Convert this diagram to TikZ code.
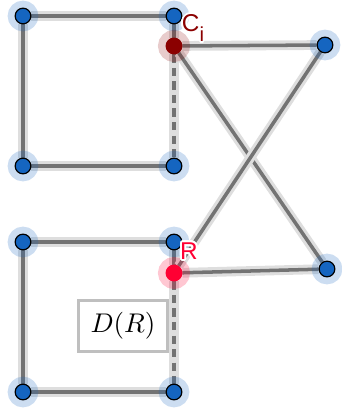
\documentclass[tikz,border=0pt]{standalone}
\usepackage{fontspec}
\setsansfont{Liberation Sans}
\usepackage[copies]{contour}
\usetikzlibrary{backgrounds}
\definecolor{vblue}{RGB}{21,101,192}
\definecolor{cired}{RGB}{139,0,0}
\definecolor{rred}{RGB}{255,0,51}
\contourlength{0.7pt}

\begin{document}
\begin{tikzpicture}[
  x=0.37pt, y=-0.37pt,
  dot/.style={circle, inner sep=0pt, minimum size=5.8pt, line width=0.45pt},
  vert/.style={dot, fill=vblue, draw=black,
    preaction={draw=vblue, draw opacity=0.22, line width=5.5pt}},
  civert/.style={dot, fill=cired, draw=cired, preaction={draw=cired, draw opacity=0.2, line width=6pt}},
  rvert/.style={dot, fill=rred, draw=rred, preaction={draw=rred, draw opacity=0.22, line width=6pt}},
  link/.style={draw=black!55, line width=1.3pt, preaction={draw=black!13, solid, line width=3.6pt}},
  dlink/.style={link, dash pattern=on 3pt off 2pt},
  tag/.style={font=\sffamily\fontsize{9}{10}\selectfont, inner sep=0pt},
  dbox/.style={draw=black!25, line width=1pt, fill=white, minimum width=33pt, minimum height=19pt}
]
  \useasboundingbox (0,0) rectangle (341,417);
  % upper square
  \node[vert] (a1) at (23,16) {};
  \node[vert] (a2) at (174,16) {};
  \node[vert] (a3) at (23,166) {};
  \node[vert] (a4) at (174,166) {};
  \node[civert] (ci) at (174,46) {};
  \node[vert] (p1) at (325,45) {};
  % lower square
  \node[vert] (b1) at (23,242) {};
  \node[vert] (b2) at (174,242) {};
  \node[vert] (b3) at (23,392) {};
  \node[vert] (b4) at (174,392) {};
  \node[rvert] (r) at (174,273) {};
  \node[vert] (p2) at (327,269) {};

  \begin{scope}[on background layer]
    \draw[link] (a1) -- (a2);
    \draw[link] (a1) -- (a3);
    \draw[link] (a3) -- (a4);
    \draw[link] (a2) -- (ci);
    \draw[dlink] (ci) -- (a4);
    \draw[link] (ci) -- (p1);
    \draw[link] (ci) -- (p2);
    \draw[link] (b1) -- (b2);
    \draw[link] (b1) -- (b3);
    \draw[link] (b3) -- (b4);
    \draw[link] (b2) -- (r);
    \draw[dlink] (r) -- (b4);
    \draw[link] (r) -- (p1);
    \draw[link] (r) -- (p2);
  \end{scope}

  \node[tag, text=cired] (cilab) at (193,29) {\contour{white}{C}\raisebox{-3.5pt}{\contour{white}{\fontsize{7.5}{8}\selectfont i}}};
  \node[tag, text=rred] (rlab) at (189,252) {\contour{white}{R}};
  \node[dbox] (dr) at (123,326) {$D(R)$};
\end{tikzpicture}
\end{document}
